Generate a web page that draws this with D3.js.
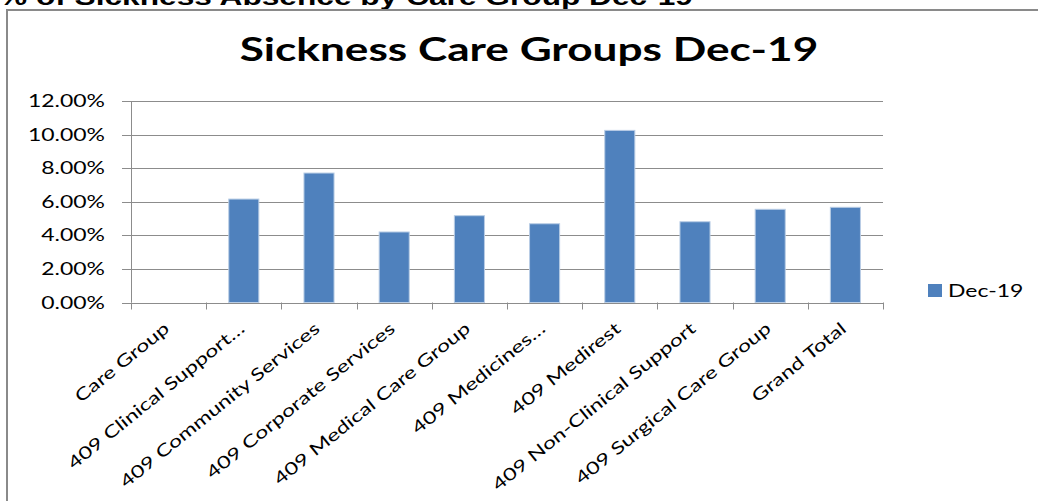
<!DOCTYPE html>
<html>
<head>
<meta charset="utf-8">
<script src="https://cdn.jsdelivr.net/npm/d3@7"></script>
<style>
  html, body { margin: 0; padding: 0; background: #fff; }
  svg { display: block; }
</style>
</head>
<body>
<svg id="chart" width="1038" height="501"></svg>
<script>
// Sickness absence rate by care group, December 2019
const categories = [
  "Care Group",
  "409 Clinical Support…",
  "409 Community Services",
  "409 Corporate Services",
  "409 Medical Care Group",
  "409 Medicines…",
  "409 Medirest",
  "409 Non-Clinical Support",
  "409 Surgical Care Group",
  "Grand Total"
];
const dec19Values = [null, 0.0616, 0.0771, 0.0420, 0.0517, 0.0469, 0.1025, 0.0481, 0.0555, 0.0567];
const yTicks = [0, 0.02, 0.04, 0.06, 0.08, 0.10, 0.12];
const seriesName = "Dec-19";
const chartTitle = "Sickness Care Groups Dec-19";
const sheetHeading = "% of Sickness Absence by Care Group Dec-19";

const svg = d3.select("#chart");
const labelFont = "Lato, 'Open Sans', sans-serif";
const sx = 1.35; // wide text rendering of the sheet

// Sheet heading, partly above the visible area
svg.append("text")
  .attr("transform", `translate(693,5) scale(1.32,1)`)
  .attr("text-anchor", "end")
  .attr("font-family", "'Liberation Sans', Arial, sans-serif")
  .attr("font-weight", "bold")
  .attr("font-size", 24)
  .attr("fill", "#000")
  .text(sheetHeading);

// Chart frame
svg.append("rect")
  .attr("x", 7).attr("y", 10)
  .attr("width", 1060).attr("height", 520)
  .attr("fill", "#fff")
  .attr("stroke", "#8a8a8a")
  .attr("stroke-width", 2);

// Title
svg.append("text")
  .attr("transform", `translate(529,61) scale(1.38,1)`)
  .attr("text-anchor", "middle")
  .attr("font-family", labelFont)
  .attr("font-weight", "bold")
  .attr("font-size", 32)
  .attr("fill", "#000")
  .text(chartTitle);

const plot = { left: 131, right: 883, top: 101, bottom: 302.5 };

const x = d3.scaleBand()
  .domain(categories)
  .range([plot.left, plot.right])
  .paddingInner(0.6)
  .paddingOuter(0.3);

const y = d3.scaleLinear()
  .domain([0, 0.12])
  .range([plot.bottom, plot.top]);

const g = svg.append("g");

// Horizontal gridlines with left tick marks
g.selectAll("line.grid")
  .data(yTicks)
  .join("line")
  .attr("class", "grid")
  .attr("x1", plot.left - 9).attr("x2", plot.right)
  .attr("y1", d => Math.round(y(d)) + 0.5)
  .attr("y2", d => Math.round(y(d)) + 0.5)
  .attr("stroke", "#8c8c8c")
  .attr("stroke-width", 1);

// Y axis labels
const fmt = d3.format(".2%");
g.selectAll("text.ytick")
  .data(yTicks)
  .join("text")
  .attr("class", "ytick")
  .attr("transform", d => `translate(105,${y(d) + 6}) scale(${sx},1)`)
  .attr("text-anchor", "end")
  .attr("font-family", labelFont)
  .attr("font-size", 17)
  .attr("fill", "#000")
  .text(d => fmt(d));

// Vertical axis line
g.append("line")
  .attr("x1", plot.left + 0.5).attr("x2", plot.left + 0.5)
  .attr("y1", plot.top).attr("y2", plot.bottom)
  .attr("stroke", "#8c8c8c");

// Bars
g.selectAll("rect.bar")
  .data(categories.map((c, i) => ({ c, v: dec19Values[i] })).filter(d => d.v != null))
  .join("rect")
  .attr("class", "bar")
  .attr("x", d => x(d.c))
  .attr("y", d => y(d.v))
  .attr("width", x.bandwidth())
  .attr("height", d => plot.bottom - y(d.v))
  .attr("fill", "#4f81bd")
  .attr("stroke", "#b9cde5")
  .attr("stroke-width", 1);

// Category axis with tick marks between categories
const boundaries = d3.range(categories.length + 1).map(i => plot.left + i * (plot.right - plot.left) / categories.length);
g.append("line")
  .attr("x1", plot.left).attr("x2", plot.right)
  .attr("y1", Math.round(plot.bottom) + 0.5).attr("y2", Math.round(plot.bottom) + 0.5)
  .attr("stroke", "#8c8c8c");
g.selectAll("line.xtick")
  .data(boundaries)
  .join("line")
  .attr("class", "xtick")
  .attr("x1", d => Math.round(d) + 0.5).attr("x2", d => Math.round(d) + 0.5)
  .attr("y1", plot.bottom).attr("y2", plot.bottom + 7)
  .attr("stroke", "#8c8c8c");

// Rotated category labels, widened along their baseline
g.selectAll("text.xlabel")
  .data(categories)
  .join("text")
  .attr("class", "xlabel")
  .attr("text-anchor", "end")
  .attr("font-family", labelFont)
  .attr("font-size", 17)
  .attr("fill", "#000")
  .attr("transform", d => `translate(${x(d) + x.bandwidth() / 2 + 2},${plot.bottom + 28}) rotate(-39) scale(${sx},1)`)
  .text(d => d);

// Legend
const legend = svg.append("g").attr("transform", "translate(928,284)");
legend.append("rect")
  .attr("width", 14).attr("height", 13)
  .attr("fill", "#4f81bd");
legend.append("text")
  .attr("transform", `translate(20,13) scale(${sx},1)`)
  .attr("font-family", labelFont)
  .attr("font-size", 17)
  .attr("fill", "#000")
  .text(seriesName);
</script>
</body>
</html>
